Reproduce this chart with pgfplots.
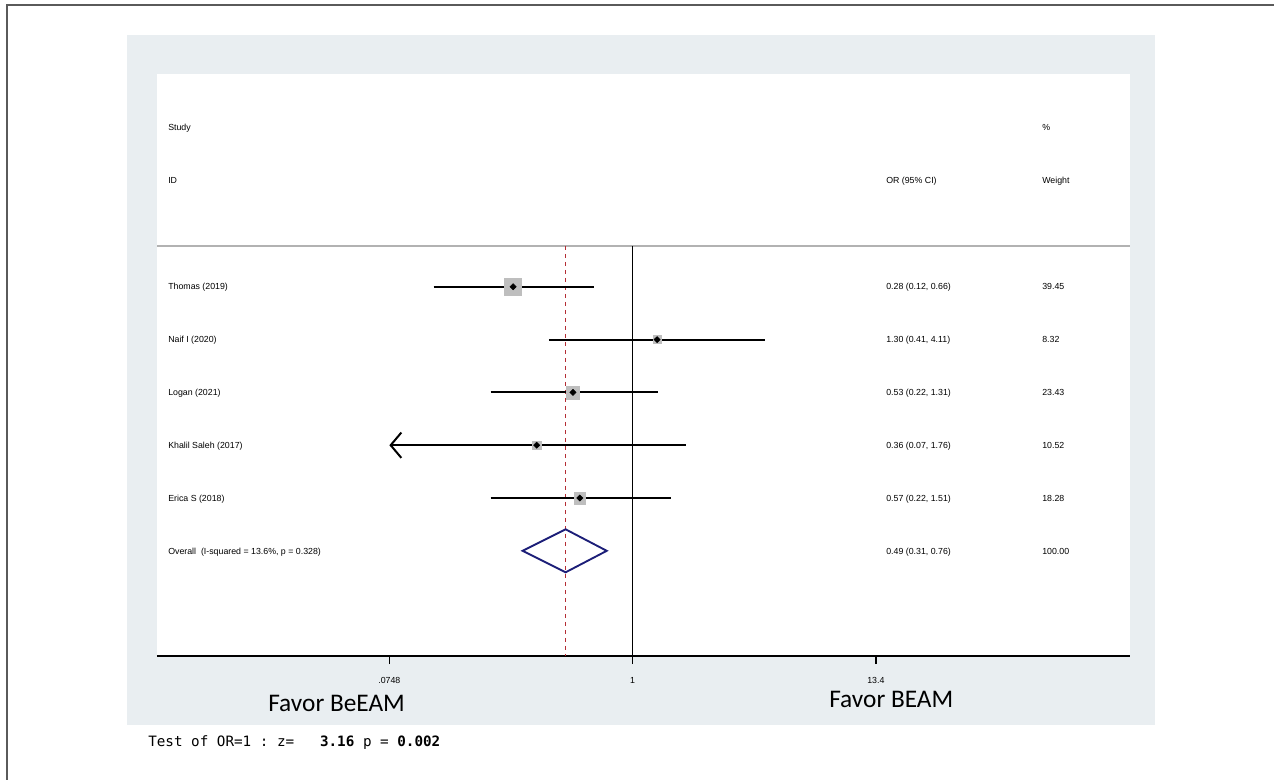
\documentclass[border=0pt]{standalone}
\usepackage{pgfplots}
\pgfplotsset{compat=1.18}
\usepackage{pgfplotstable}
\usepackage{fontspec}
\setmainfont{Liberation Sans}
\setmonofont{DejaVu Sans Mono}
\newfontfamily\favorfont{Carlito}
\usetikzlibrary{arrows.meta}

\definecolor{panel}{RGB}{233,238,241}
\definecolor{boxgray}{RGB}{190,190,190}
\definecolor{sepgray}{RGB}{178,178,178}
\definecolor{refred}{RGB}{180,45,52}
\definecolor{diamnavy}{RGB}{28,30,120}
\definecolor{framegray}{RGB}{90,90,90}

% study estimates: row, odds ratio, 95% CI bounds, % weight
\pgfplotstableread{
row or lo hi w
-1 0.28 0.12 0.66 39.45
-2 1.30 0.41 4.11 8.32
-3 0.53 0.22 1.31 23.43
-4 0.36 0.07 1.76 10.52
-5 0.57 0.22 1.51 18.28
}\studies

\newcommand\tabfont{\fontsize{6.6}{8}\selectfont}

\begin{document}
\begin{tikzpicture}
\begin{scope}[x=0.75pt,y=-0.75pt]
\useasboundingbox (0,0) rectangle (1274,780);
% outer frame (top and left edges)
\draw[framegray, line width=1.5pt] (7,780) -- (7,5) -- (1274,5);
% graph region and plot region
\fill[panel] (127,35) rectangle (1155,725);
\fill[white] (157,74) rectangle (1130,656);
% header separator
\draw[sepgray, line width=1.1pt] (157,246) -- (1130,246);
\end{scope}

\begin{axis}[
  at={(117.75pt,-492pt)}, anchor=south west,
  scale only axis, width=729.75pt, height=436.5pt,
  xmode=log, xmin=0.006275, xmax=201.5,
  ymin=-7.992, ymax=3.030,
  axis y line=none, axis x line*=bottom,
  x axis line style={-, line width=1.1pt},
  xtick={0.0748,1,13.4}, xticklabels={.0748,1,13.4},
  minor xtick={},
  tick align=outside, major tick length=6pt,
  xtick style={black, line width=1.1pt},
  xticklabel style={font=\tabfont, yshift=-6.5pt},
  clip=false,
]
% weight boxes, area proportional to study weight
\addplot[scatter, only marks, mark=square*, point meta=explicit,
  scatter/use mapped color={draw=boxgray, fill=boxgray},
  visualization depends on={1.02*sqrt(\thisrow{w}) \as \bsize},
  scatter/@pre marker code/.append style={/tikz/mark size=\bsize pt}]
  table[x=or, y=row, meta=w] {\studies};

% no-effect line and pooled estimate line
\addplot[black, line width=1.1pt] coordinates {(1,-0.227) (1,-7.992)};
\addplot[color=refred, line width=1.3pt, dashed]
  coordinates {(0.49,-0.227) (0.49,-7.992)};

% confidence intervals
\addplot[black, line width=1.5pt] coordinates {(0.12,-1) (0.66,-1)};
\addplot[black, line width=1.5pt] coordinates {(0.41,-2) (4.11,-2)};
\addplot[black, line width=1.5pt] coordinates {(0.22,-3) (1.31,-3)};
\addplot[black, line width=1.5pt, {Straight Barb[length=8pt,width=19pt]}-]
  coordinates {(0.0748,-4) (1.76,-4)};
\addplot[black, line width=1.5pt] coordinates {(0.22,-5) (1.51,-5)};

% point estimates
\addplot[only marks, mark=diamond*, mark size=2.3pt, black, mark options={xscale=1.35}]
  table[x=or, y=row] {\studies};

% pooled estimate
\addplot[diamnavy, line width=1.4pt]
  coordinates {(0.31,-6) (0.49,-5.593) (0.76,-6) (0.49,-6.407)} -- cycle;
\end{axis}

\begin{scope}[x=0.75pt,y=-0.75pt]
% table columns
\begin{scope}[every node/.style={anchor=base west, font=\tabfont, inner sep=0pt}]
\node at (168,131) {Study};
\node at (168,184) {ID};
\node at (886,184) {OR (95\% CI)};
\node at (1042,131) {\%};
\node at (1042,184) {Weight};

\node at (168,290) {Thomas (2019)};
\node at (168,343) {Naif I (2020)};
\node at (168,396) {Logan (2021)};
\node at (168,448) {Khalil Saleh (2017)};
\node at (168,501) {Erica S (2018)};
\node at (168,554) {Overall\ \ (I-squared = 13.6\%, p = 0.328)};

\node at (886,290) {0.28 (0.12, 0.66)};
\node at (886,343) {1.30 (0.41, 4.11)};
\node at (886,396) {0.53 (0.22, 1.31)};
\node at (886,448) {0.36 (0.07, 1.76)};
\node at (886,501) {0.57 (0.22, 1.51)};
\node at (886,554) {0.49 (0.31, 0.76)};

\node at (1042,290) {39.45};
\node at (1042,343) {8.32};
\node at (1042,396) {23.43};
\node at (1042,448) {10.52};
\node at (1042,501) {18.28};
\node at (1042,554) {100.00};
\end{scope}

% direction labels
\node[anchor=west, inner sep=0pt, font=\favorfont\fontsize{19}{22}\selectfont] at (268,703) {Favor BeEAM};
\node[anchor=west, inner sep=0pt, font=\favorfont\fontsize{19}{22}\selectfont] at (829,699) {Favor BEAM};

% overall effect test
\node[anchor=west, inner sep=0pt, font=\ttfamily\fontsize{10.7}{12}\selectfont] at (148,743)
  {Test of OR=1 : z=\ \ \ \textbf{3.16} p = \textbf{0.002}};
\end{scope}
\end{tikzpicture}
\end{document}
